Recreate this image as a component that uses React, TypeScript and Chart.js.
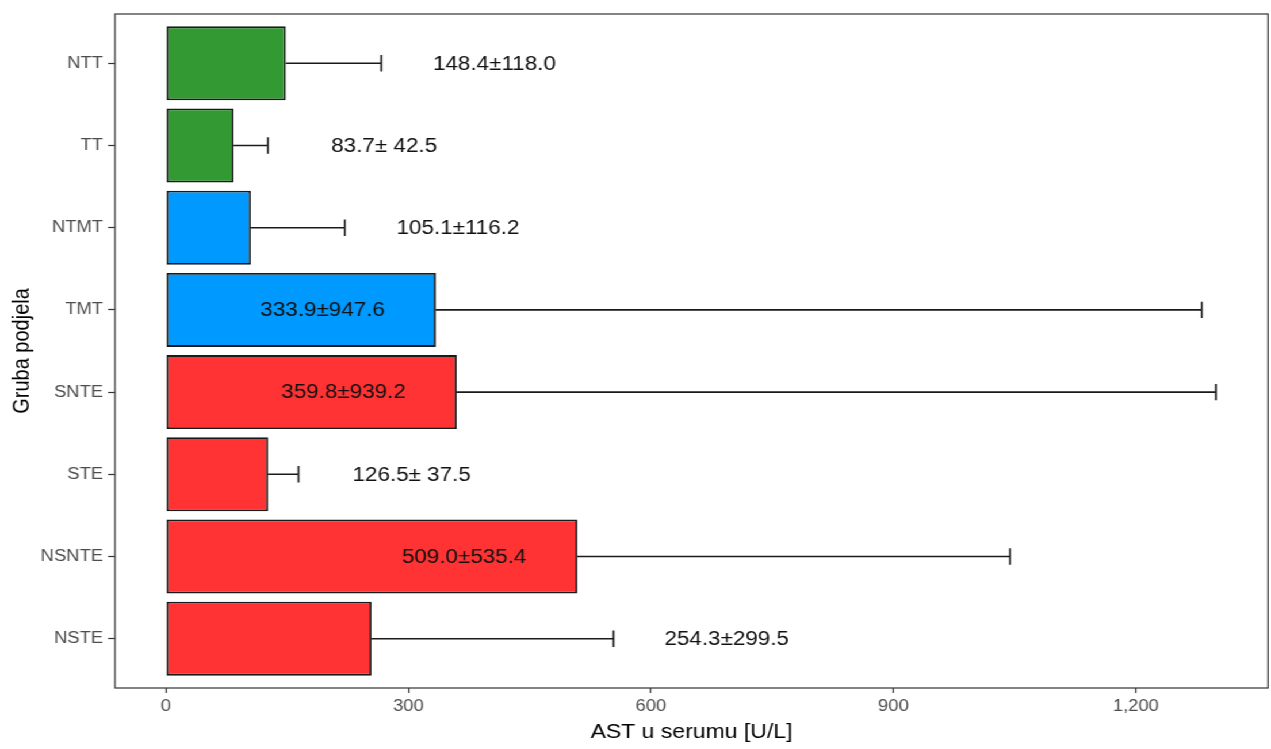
import { useEffect, useRef } from 'react';
import { Chart, registerables } from 'chart.js';

Chart.register(...registerables);

// ---- data ----
const categories = ['NTT', 'TT', 'NTMT', 'TMT', 'SNTE', 'STE', 'NSNTE', 'NSTE'];
const groups = ['T', 'T', 'TM', 'TM', 'TE', 'TE', 'TE', 'TE'];
const means = [148.4, 83.7, 105.1, 333.9, 359.8, 126.5, 509.0, 254.3];
const sds = [118.0, 42.5, 116.2, 947.6, 939.2, 37.5, 535.4, 299.5];
const xTicks = [0, 300, 600, 900, 1200];
const xLimits = [-63, 1363.5];

// ---- styling / layout ----
const GROUP_COLORS: Record<string, string> = { T: '#339933', TM: '#0099FF', TE: '#FF3333' };
const FONT = '"Liberation Sans", Arial, sans-serif';
const STRETCH = 1.15;
const W = Math.round(1271 / STRETCH);
const H = 749;
const SX = 1271 / W;
const LABEL_GAP = 140;
const INSIDE_LIMIT = 900;

const fmt = (v: number) => v.toFixed(1).padStart(5, ' ');
const valueLabels = means.map((m, i) => `${fmt(m)}±${fmt(sds[i])}`);

const overlay = {
  id: 'overlay',
  afterDatasetsDraw(chart: any) {
    const { ctx, chartArea, scales } = chart;
    const x = scales.x;
    const y = scales.y;
    ctx.save();
    const half = Math.abs(y.getPixelForValue(1.1) - y.getPixelForValue(1));
    means.forEach((m, i) => {
      const yc = y.getPixelForValue(i + 1);
      const end = m + sds[i];
      const x0 = x.getPixelForValue(m);
      const x1 = x.getPixelForValue(end);
      ctx.strokeStyle = '#1a1a1a';
      ctx.lineWidth = 1.6;
      ctx.beginPath();
      ctx.moveTo(x0, yc);
      ctx.lineTo(x1, yc);
      ctx.moveTo(x1, yc - half);
      ctx.lineTo(x1, yc + half);
      ctx.stroke();
      const lx = end > INSIDE_LIMIT ? m - LABEL_GAP : end + LABEL_GAP;
      ctx.fillStyle = '#111';
      ctx.font = `19.5px ${FONT}`;
      ctx.textAlign = 'center';
      ctx.textBaseline = 'middle';
      ctx.fillText(valueLabels[i], x.getPixelForValue(lx), yc + 1);
    });
    ctx.strokeStyle = '#333333';
    ctx.lineWidth = 1.2;
    ctx.strokeRect(chartArea.left, chartArea.top, chartArea.right - chartArea.left, chartArea.bottom - chartArea.top);
    ctx.restore();
  },
};

export default function App() {
  const ref = useRef<HTMLCanvasElement | null>(null);
  useEffect(() => {
    if (!ref.current) return;
    const chart = new Chart(ref.current, {
      type: 'bar',
      data: {
        datasets: [
          {
            data: means.map((m, i) => ({ x: m, y: i + 1 })),
            backgroundColor: groups.map((g) => GROUP_COLORS[g]),
            borderColor: '#1a1a1a',
            borderWidth: 1.8,
            borderSkipped: false,
            barPercentage: 0.9,
            categoryPercentage: 1,
          } as any,
        ],
      },
      options: {
        indexAxis: 'y',
        responsive: false,
        animation: false,
        devicePixelRatio: 1,
        layout: { padding: { top: 12, right: W - 1268 / SX, left: 0, bottom: 0 } },
        plugins: { legend: { display: false }, tooltip: { enabled: false } },
        scales: {
          x: {
            type: 'linear',
            min: xLimits[0],
            max: xLimits[1],
            offset: false,
            afterBuildTicks: (s: any) => {
              s.ticks = xTicks.map((v) => ({ value: v }));
            },
            afterFit: (s: any) => {
              s.height = 61;
            },
            grid: { offset: false, drawOnChartArea: false, drawTicks: true, tickLength: 5, tickColor: '#333333', tickWidth: 1.2 },
            border: { display: false },
            ticks: {
              padding: 4,
              color: '#4D4D4D',
              font: { family: FONT, size: 16 },
              maxRotation: 0,
              callback: (v: any) => Number(v).toLocaleString('en-US'),
            },
            title: {
              display: true,
              text: 'AST u serumu [U/L]',
              color: '#000',
              font: { family: FONT, size: 20 },
              padding: { top: 0, bottom: 5 },
            },
          },
          y: {
            type: 'linear',
            reverse: true,
            min: 0.4,
            max: 8.6,
            offset: false,
            afterBuildTicks: (s: any) => {
              s.ticks = categories.map((_, i) => ({ value: i + 1 }));
            },
            afterFit: (s: any) => {
              s.width = 115 / SX;
            },
            grid: { offset: false, drawOnChartArea: false, drawTicks: true, tickLength: 6, tickColor: '#333333', tickWidth: 1.2 },
            border: { display: false },
            ticks: {
              padding: 4.4,
              autoSkip: false,
              color: '#4D4D4D',
              font: { family: FONT, size: 16 },
              callback: (v: any) => categories[Math.round(Number(v)) - 1] ?? '',
            },
            title: {
              display: true,
              text: 'Gruba podjela',
              color: '#000',
              font: { family: FONT, size: 20 },
              padding: { top: 7, bottom: 0 },
            },
          },
        },
      } as any,
      plugins: [overlay],
    });
    return () => chart.destroy();
  }, []);

  return (
    <div
      style={{
        position: 'absolute',
        left: 0,
        top: 0,
        width: W,
        height: H,
        background: '#fff',
        transform: `scaleX(${SX})`,
        transformOrigin: '0 0',
      }}
    >
      <canvas ref={ref} width={W} height={H} style={{ display: 'block', width: W, height: H }} />
    </div>
  );
}
